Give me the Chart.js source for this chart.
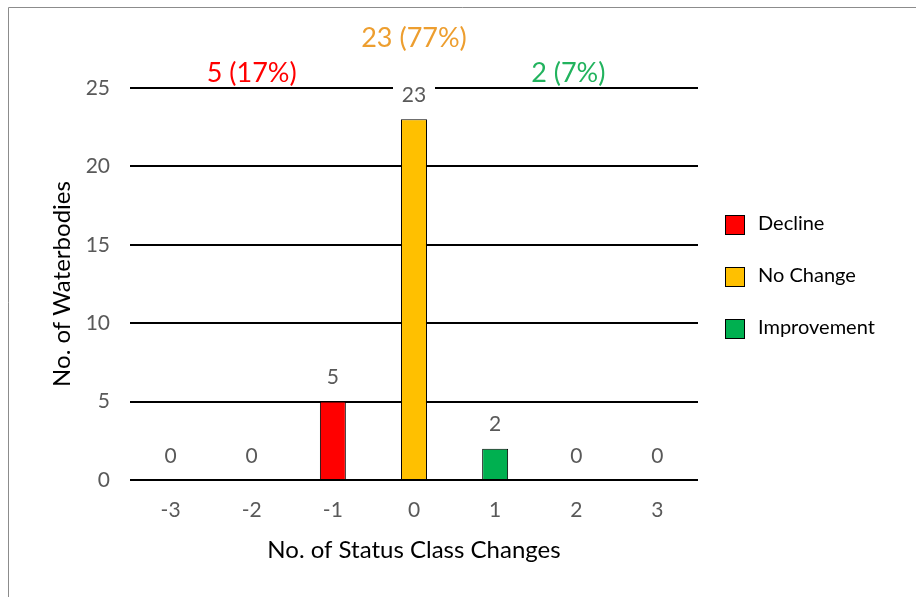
<!DOCTYPE html>
<html>
<head>
<meta charset="UTF-8">
<title>Status Class Changes</title>
<script src="https://cdn.jsdelivr.net/npm/chart.js@4.4.1/dist/chart.umd.min.js"></script>
<style>
  html, body { margin: 0; padding: 0; background: #fff; }
  #wrap { width: 916px; height: 597px; }
</style>
</head>
<body>
<div id="wrap"><canvas id="chart" width="916" height="597"></canvas></div>
<script>
// data
const categories = ['-3', '-2', '-1', '0', '1', '2', '3'];
const declineValues = [null, null, 5, null, null, null, null];
const noChangeValues = [null, null, null, 23, null, null, null];
const improvementValues = [null, null, null, null, 2, null, null];
const seriesNames = ['Decline', 'No Change', 'Improvement'];
const seriesColors = ['#FF0000', '#FFC000', '#00B050'];
const summaryColors = ['#FF0000', '#ED9E2F', '#22B35E'];
// which categories each group covers (summary label sits over the middle)
const summaryRanges = [[0, 2], [3, 3], [4, 6]];

const FONT = 'Lato, "Open Sans", sans-serif';
const allSeries = [declineValues, noChangeValues, improvementValues];
const totals = categories.map((c, i) => allSeries.reduce((s, arr) => s + (arr[i] || 0), 0));
const grandTotal = totals.reduce((a, b) => a + b, 0);

const extras = {
  id: 'extras',
  beforeDraw(chart) {
    const ctx = chart.ctx;
    ctx.save();
    ctx.strokeStyle = '#8c8c8c';
    ctx.lineWidth = 1;
    ctx.beginPath();
    ctx.moveTo(8.5, 600);
    ctx.lineTo(8.5, 7.5);
    ctx.lineTo(920, 7.5);
    ctx.stroke();
    ctx.restore();
  },
  afterDatasetsDraw(chart) {
    const ctx = chart.ctx;
    const x = chart.scales.x, y = chart.scales.y;
    ctx.save();
    ctx.textAlign = 'center';
    ctx.textBaseline = 'middle';

    // value labels above each category
    ctx.font = '21px ' + FONT;
    totals.forEach((t, i) => {
      const px = x.getPixelForValue(i);
      const py = y.getPixelForValue(t) - 25;
      if (t > 22) {
        ctx.fillStyle = '#fff';
        ctx.fillRect(px - 21, py - 12, 42, 24);
      }
      ctx.fillStyle = '#595959';
      ctx.fillText(String(t), px, py + 1);
    });

    // group summaries at the top
    ctx.font = '27px ' + FONT;
    allSeries.forEach((arr, k) => {
      const sum = arr.reduce((s, v) => s + (v || 0), 0);
      const pct = Math.round(sum / grandTotal * 100);
      const [a, b] = summaryRanges[k];
      const px = (x.getPixelForValue(a) + x.getPixelForValue(b)) / 2 - (k === 2 ? 8 : 0);
      const py = k === 1 ? 38 : 73;
      ctx.fillStyle = summaryColors[k];
      ctx.fillText(sum + ' (' + pct + '%)', px, py);
    });

    // axis titles
    ctx.fillStyle = '#000';
    ctx.font = '24px ' + FONT;
    ctx.fillText('No. of Status Class Changes', (x.left + x.right) / 2, 550);
    ctx.save();
    ctx.translate(62, (y.top + y.bottom) / 2);
    ctx.rotate(-Math.PI / 2);
    ctx.fillText('No. of Waterbodies', 0, 0);
    ctx.restore();

    // legend
    ctx.textAlign = 'left';
    ctx.font = '20px ' + FONT;
    chart.data.datasets.forEach((ds, k) => {
      const top = 215 + k * 52;
      ctx.fillStyle = ds.backgroundColor;
      ctx.fillRect(725, top, 20, 20);
      ctx.strokeStyle = '#000';
      ctx.lineWidth = 1;
      ctx.strokeRect(725.5, top + 0.5, 19, 19);
      ctx.fillStyle = '#000';
      ctx.fillText(ds.label, 758, top + 9);
    });
    ctx.restore();
  }
};

new Chart(document.getElementById('chart'), {
  type: 'bar',
  data: {
    labels: categories,
    datasets: allSeries.map((arr, k) => ({
      label: seriesNames[k],
      data: arr,
      backgroundColor: seriesColors[k],
      borderColor: '#000',
      borderWidth: 1,
      categoryPercentage: 1,
      barPercentage: 0.32
    }))
  },
  options: {
    responsive: false,
    animation: false,
    layout: { padding: { left: 0, right: 218, top: 88, bottom: 0 } },
    plugins: { legend: { display: false }, tooltip: { enabled: false } },
    scales: {
      x: {
        stacked: true,
        grid: { display: false },
        border: { display: false },
        ticks: { color: '#595959', font: { family: FONT, size: 21 }, padding: 10 },
        afterFit(s) { s.height = 117; }
      },
      y: {
        stacked: true,
        min: 0,
        max: 25,
        ticks: { stepSize: 5, color: '#595959', font: { family: FONT, size: 21 }, padding: 20 },
        grid: { color: '#000', lineWidth: 2, drawTicks: false },
        border: { display: false },
        afterFit(s) { s.width = 130; }
      }
    }
  },
  plugins: [extras]
});
</script>
</body>
</html>
